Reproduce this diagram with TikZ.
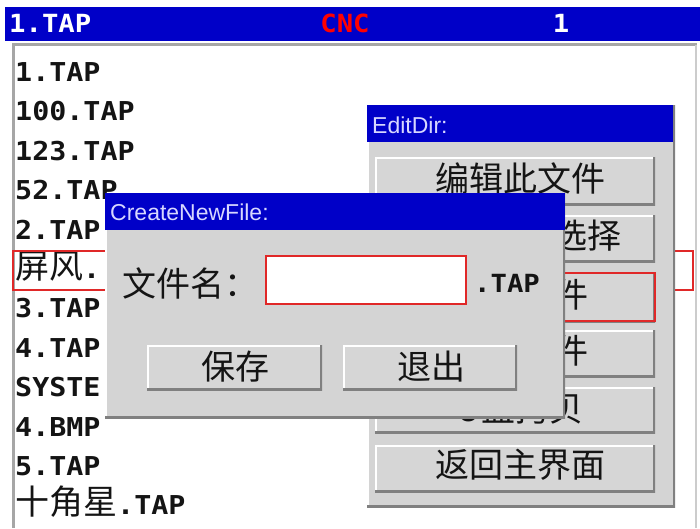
\documentclass[tikz,border=0pt]{standalone}
\usepackage{fontspec}
\setmainfont{Liberation Sans}
\newfontfamily\pix[FakeStretch=1.09]{DejaVu Sans Mono}
\newfontfamily\cjk{Noto Sans CJK SC}
\definecolor{barblue}{RGB}{0,0,200}
\definecolor{dlggray}{RGB}{212,212,212}
\definecolor{btngray}{RGB}{214,214,214}
\definecolor{shadowgray}{RGB}{128,128,128}
\definecolor{hired}{RGB}{224,40,40}
\definecolor{lav}{RGB}{215,215,255}
\definecolor{ink}{RGB}{20,20,20}
\tikzset{
  listtxt/.style={anchor=base west, inner sep=0, text=ink, font=\pix\bfseries\fontsize{26}{26}\selectfont},
  bartxt/.style={anchor=base, inner sep=0, font=\pix\bfseries\fontsize{25}{25}\selectfont},
  cjktxt/.style={inner sep=0, text=ink, font=\cjk\fontsize{34}{34}\selectfont},
  titletxt/.style={anchor=west, inner sep=0, text=lav, font=\fontsize{23}{23}\selectfont},
  bevel/.style={fill=#1, inner sep=0, path picture={
      \draw[white, line width=4pt] (path picture bounding box.south west) |- (path picture bounding box.north east);
      \draw[shadowgray, line width=4pt] (path picture bounding box.south west) -| (path picture bounding box.north east);}},
  btnbox/.style={bevel=btngray},
  dlgbox/.style={bevel=dlggray, anchor=north west},
  titlebar/.style={fill=barblue, inner sep=0, anchor=north west, minimum height=37pt},
}
\newcommand\cj[1]{{\cjk\mdseries\fontsize{34}{34}\selectfont #1}}
\begin{document}
\begin{tikzpicture}[x=1pt,y=-1pt]
\useasboundingbox (0,0) rectangle (700,528);
\fill[white] (0,0) rectangle (700,528);
% top bar
\node[fill=barblue, anchor=north west, inner sep=0, minimum width=695pt, minimum height=34pt] (bar) at (5,7) {};
\node[bartxt, anchor=base west, text=white] (fname) at (9,32) {1.TAP};
\node[bartxt, text=red] (cnc) at (345,32) {CNC};
\node[bartxt, text=white] (num) at (561,32) {1};
% file panel
\node[fill=white, anchor=north west, inner sep=0, minimum width=685pt, minimum height=486pt] (panel) at (12,42) {};
\draw[gray!70, line width=3pt] (13,528) -- (13,44) -- (697,44);
\draw[gray!40, line width=1.5pt] (696,45) -- (696,528);
% list
\node[listtxt] (l1) at (15,81.5) {1.TAP};
\node[listtxt] (l2) at (15,120.9) {100.TAP};
\node[listtxt] (l3) at (15,160.3) {123.TAP};
\node[listtxt] (l4) at (15,199.7) {52.TAP};
\node[listtxt] (l5) at (15,239.1) {2.TAP};
\node[listtxt] (l6) at (15,278.5) {\cj{屏风}.};
\node[listtxt] (l7) at (15,317.9) {3.TAP};
\node[listtxt] (l8) at (15,357.3) {4.TAP};
\node[listtxt] (l9) at (15,396.7) {SYSTE};
\node[listtxt] (l10) at (15,436.1) {4.BMP};
\node[listtxt] (l11) at (15,475.5) {5.TAP};
\node[listtxt] (l12) at (15,514.9) {\cj{十角星}.TAP};
% highlighted row
\draw[hired, line width=2pt] (13,251) rectangle (693,290);
% EditDir dialog
\node[dlgbox, minimum width=308pt, minimum height=402pt] (ed) at (367,105) {};
\node[titlebar, minimum width=306pt] (edbar) at (367,105) {};
\node[titletxt] (edtitle) at (372,125) {EditDir:};
\node[btnbox, minimum width=280pt, minimum height=48pt] (e1) at (515,181) {};
\node[btnbox, minimum width=280pt, minimum height=47pt] (e2) at (515,238.5) {};
\node[btnbox, minimum width=280pt, minimum height=50pt] (e3) at (515,297) {};
\node[btnbox, minimum width=280pt, minimum height=47pt] (e4) at (515,353.5) {};
\node[btnbox, minimum width=280pt, minimum height=46pt] (e5) at (515,410) {};
\node[btnbox, minimum width=280pt, minimum height=47pt] (e6) at (515,468.5) {};
\draw[hired, line width=2pt] (376,273) rectangle (655,321);
\node[cjktxt] (e1t) at (520,178) {编辑此文件};
\node[cjktxt, anchor=east] (e2t) at (622,236) {选择};
\node[cjktxt, anchor=east] (e3t) at (589,295) {件};
\node[cjktxt, anchor=east] (e4t) at (589,351) {件};
\node[cjktxt] (e5t) at (520,408) {U盘拷贝};
\node[cjktxt] (e6t) at (520,465) {返回主界面};
% CreateNewFile dialog
\node[dlgbox, minimum width=460pt, minimum height=225pt] (cn) at (105,193) {};
\node[titlebar, minimum width=460pt] (cnbar) at (105,193) {};
\node[titletxt] (cntitle) at (110,212) {CreateNewFile:};
\node[cjktxt, anchor=west] (lbl) at (122,283) {文件名：};
\node[draw=hired, fill=white, line width=2pt, inner sep=0, anchor=north west, minimum width=200pt, minimum height=48pt] (input) at (265,255) {};
\node[listtxt, font=\pix\bfseries\fontsize{25}{25}\selectfont] (ext) at (474,292) {.TAP};
\node[btnbox, minimum width=175pt, minimum height=45pt] (save) at (234.5,367.5) {};
\node[btnbox, minimum width=174pt, minimum height=45pt] (quit) at (430,367.5) {};
\node[cjktxt] (savet) at (235,367) {保存};
\node[cjktxt] (quitt) at (431,367) {退出};
\end{tikzpicture}
\end{document}
